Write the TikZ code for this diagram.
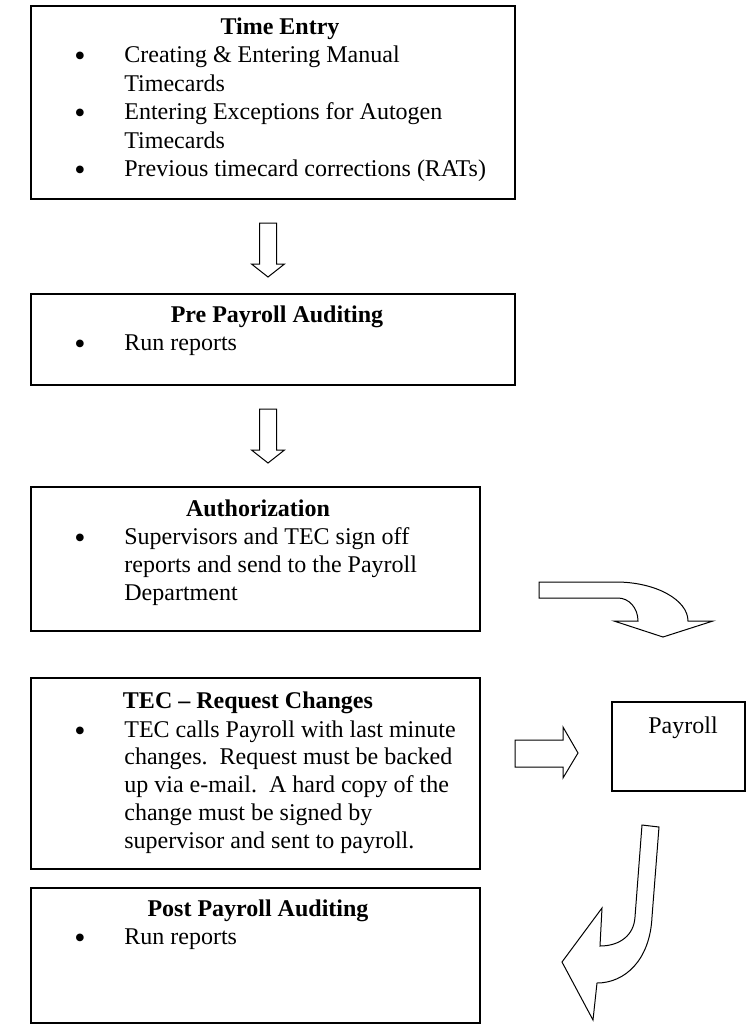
\documentclass[tikz,border=0pt]{standalone}
\usepackage{fontspec}
\setmainfont{Liberation Serif}
\begin{document}
\begin{tikzpicture}[x=0.5pt,y=-0.5pt,
  box/.style={draw,line width=0.75pt,inner sep=0pt},
  hd/.style={font=\bfseries\fontsize{12pt}{14pt}\selectfont,inner sep=0pt,anchor=base},
  tx/.style={font=\fontsize{12pt}{14pt}\selectfont,inner sep=0pt,anchor=base west},
  bl/.style={font=\fontsize{16pt}{18pt}\selectfont,inner sep=0pt,anchor=base,yshift=-2pt},
  pt/.style={font=\fontsize{12pt}{14pt}\selectfont,inner sep=0pt,anchor=base},
  barrow/.style={draw,line width=0.5pt,line join=miter,fill=white}]
\useasboundingbox (0,0) rectangle (746,1025);

% boxes
\node[box,minimum width=242pt,minimum height=96.5pt] (te) at (273,102.5) {};
\node[box,minimum width=242pt,minimum height=45.5pt] (pre) at (273,339.5) {};
\node[box,minimum width=224.5pt,minimum height=72pt] (auth) at (255.5,559) {};
\node[box,minimum width=224.5pt,minimum height=95.5pt] (tec) at (255.5,773.5) {};
\node[box,minimum width=224.5pt,minimum height=67.5pt] (post) at (255.5,955.5) {};
\node[box,minimum width=66.5pt,minimum height=44.5pt] (pay) at (678.5,746.5) {};

% Time Entry
\node[hd] (te-h) at (280,34) {Time Entry};
\node[bl] (te-b1) at (80,62.5) {•};
\node[tx] (te-l1) at (124,62.5) {Creating \& Entering Manual};
\node[tx] (te-l2) at (124,91) {Timecards};
\node[bl] (te-b2) at (80,119.5) {•};
\node[tx] (te-l3) at (124,119.5) {Entering Exceptions for Autogen};
\node[tx] (te-l4) at (124,148) {Timecards};
\node[bl] (te-b3) at (80,176.5) {•};
\node[tx] (te-l5) at (124,176.5) {Previous timecard corrections (RATs)};

% Pre Payroll Auditing
\node[hd] (pre-h) at (277,322) {Pre Payroll Auditing};
\node[bl] (pre-b1) at (80,350) {•};
\node[tx] (pre-l1) at (124,350) {Run reports};

% Authorization
\node[hd] (auth-h) at (258,516) {Authorization};
\node[bl] (auth-b1) at (80,544) {•};
\node[tx] (auth-l1) at (124,544) {Supervisors and TEC sign off};
\node[tx] (auth-l2) at (124,572) {reports and send to the Payroll};
\node[tx] (auth-l3) at (124,600) {Department};

% TEC - Request Changes
\node[hd] (tec-h) at (248,708) {TEC – Request Changes};
\node[bl] (tec-b1) at (80,737) {•};
\node[tx] (tec-l1) at (124,737) {TEC calls Payroll with last minute};
\node[tx] (tec-l2) at (124,764.5) {changes.\ \ Request must be backed};
\node[tx] (tec-l3) at (124,792) {up via e-mail.\ \ A hard copy of the};
\node[tx] (tec-l4) at (124,820) {change must be signed by};
\node[tx] (tec-l5) at (124,848) {supervisor and sent to payroll.};

% Post Payroll Auditing
\node[hd] (post-h) at (258,916) {Post Payroll Auditing};
\node[bl] (post-b1) at (80,944) {•};
\node[tx] (post-l1) at (124,944) {Run reports};

% Payroll
\node[pt] (pay-t) at (683,733) {Payroll};

% down arrows
\draw[barrow] (259.5,223) -- (276.5,223) -- (276.5,264) -- (284.5,264) -- (268,277) -- (251.5,264) -- (259.5,264) -- cycle;
\draw[barrow] (259.5,409) -- (276.5,409) -- (276.5,450) -- (284.5,450) -- (268,463) -- (251.5,450) -- (259.5,450) -- cycle;

% curved arrow down (Authorization -> Payroll)
\draw[barrow] (539,582) -- (616,582) .. controls (656,582) and (688,600) .. (688,621)
  -- (713,621) -- (663,637) -- (614,621) -- (638,621)
  .. controls (638,608) and (629,598) .. (618,598) -- (539,598) -- cycle;

% right arrow (TEC -> Payroll)
\draw[barrow] (515,740) -- (563,740) -- (563,727) -- (578,753) -- (563,778) -- (563,767) -- (515,767) -- cycle;

% curved arrow (Payroll -> Post Payroll Auditing)
\draw[barrow] (642,825) -- (659,827) -- (652,917) .. controls (650,960) and (625,983) .. (597,983)
  -- (593,1020) -- (562,962) -- (602,908) -- (600,946)
  .. controls (620,946) and (634,935) .. (635,917) -- cycle;
\end{tikzpicture}
\end{document}
